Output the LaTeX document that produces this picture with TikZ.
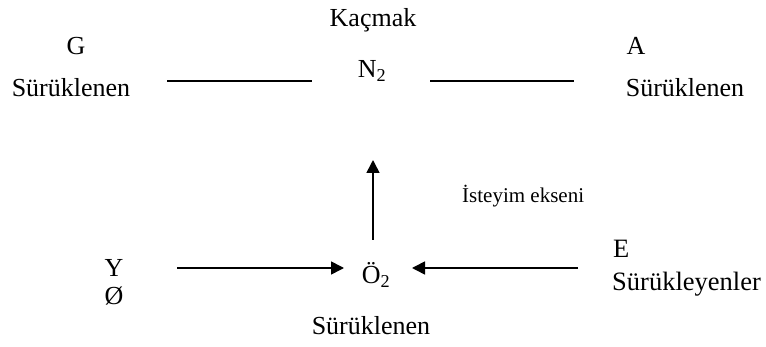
\documentclass[tikz,border=0pt]{standalone}
\usepackage{fontspec}
\setmainfont{Liberation Serif}
\usetikzlibrary{arrows.meta}
\tikzset{
  lbl/.style={inner sep=0pt, anchor=base, font=\fontsize{26}{28}\selectfont},
  glbl/.style={inner sep=0pt, anchor=base west, font=\fontsize{26.5}{28}\selectfont},
  axlbl/.style={inner sep=0pt, anchor=base west, font=\fontsize{21}{24}\selectfont},
  conn/.style={line width=1.6pt},
  arr/.style={conn, -{Triangle[length=13pt,width=13pt]}}
}
\begin{document}
\begin{tikzpicture}[x=1pt,y=-1pt]
\useasboundingbox (0,0) rectangle (766,347);
\node[lbl] (kac) at (373,27) {Kaçmak};
\node[lbl] (g) at (76,55) {G};
\node[lbl] (sl) at (71,97) {Sürüklenen};
\node[lbl] (a) at (636,55) {A};
\node[lbl] (sr) at (685,97) {Sürüklenen};
\node[lbl] (n2) at (372,78) {N\textsubscript{2}};
\node[axlbl] (ist) at (462,203) {İsteyim ekseni};
\node[lbl] (y) at (114,277) {Y};
\node[lbl] (o) at (114,305) {Ø};
\node[lbl] (o2) at (376,284) {Ö\textsubscript{2}};
\node[glbl] (e) at (613,258) {E};
\node[glbl] (sy) at (612,291) {Sürükleyenler};
\node[lbl] (sb) at (371,335) {Sürüklenen};
\coordinate (l1) at (167,81); \coordinate (l2) at (312,81);
\coordinate (r1) at (430,81); \coordinate (r2) at (574,81);
\coordinate (vb) at (373,240); \coordinate (vt) at (373,160);
\coordinate (ha) at (177,268); \coordinate (hb) at (344,268);
\coordinate (hc) at (578,268); \coordinate (hd) at (412,268);
\draw[conn] (l1) -- (l2);
\draw[conn] (r1) -- (r2);
\draw[arr] (vb) -- (vt);
\draw[arr] (ha) -- (hb);
\draw[arr] (hc) -- (hd);
\end{tikzpicture}
\end{document}
